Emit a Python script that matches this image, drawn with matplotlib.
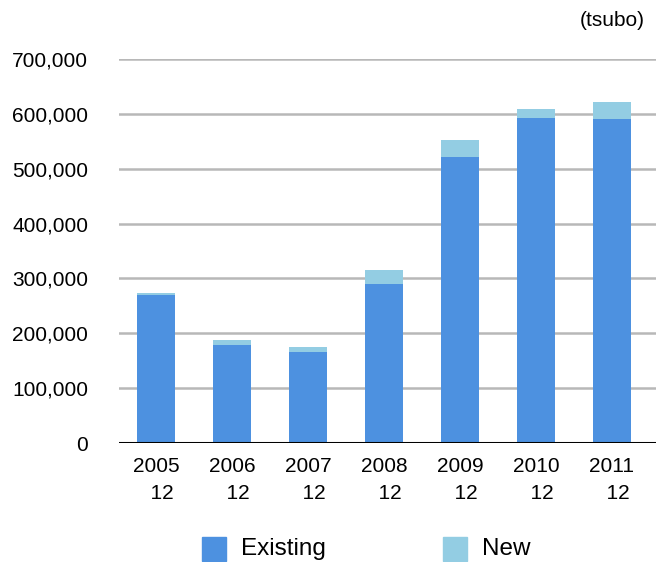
import matplotlib
matplotlib.use("Agg")
import matplotlib.pyplot as plt
from matplotlib.patches import Rectangle
from matplotlib.ticker import FuncFormatter

years = ["2005", "2006", "2007", "2008", "2009", "2010", "2011"]
months = ["12"] * 7
existing = [270000, 179000, 166000, 290000, 521000, 592000, 590000]
new = [3000, 9000, 9000, 25000, 31000, 17000, 31000]
yticks = [0, 100000, 200000, 300000, 400000, 500000, 600000, 700000]

c_existing = "#4d91e0"
c_new = "#93cde3"

plt.rcParams["font.family"] = ["Liberation Sans", "DejaVu Sans"]

fig = plt.figure(figsize=(6.56, 5.62), dpi=100)
ax = fig.add_axes([0.181, 0.2117, 0.819, 0.6833])

x = list(range(len(years)))
ax.bar(x, existing, width=0.51, color=c_existing, zorder=3)
ax.bar(x, new, bottom=existing, width=0.51, color=c_new, zorder=3)

ax.set_ylim(0, 700000)
ax.set_xlim(-0.49, 6.58)
ax.set_yticks(yticks)
ax.yaxis.set_major_formatter(FuncFormatter(lambda v, p: f"{int(v):,}"))
ax.grid(axis="y", color="#b8b8b8", linewidth=1.8, zorder=0)
ax.axhline(0, color="black", linewidth=2.2, zorder=4)

ax.set_xticks(x)
ax.set_xticklabels([f"{y}\n  {m}" for y, m in zip(years, months)],
                   fontsize=15, linespacing=1.55)
ax.tick_params(axis="x", length=0, pad=10)
ax.tick_params(axis="y", length=0, pad=22, labelsize=15)
for s in ax.spines.values():
    s.set_visible(False)

fig.text(645 / 656, 1 - 20 / 562, "(tsubo)", ha="right", va="center", fontsize=15)

# legend drawn as figure-level patches and labels
H = 562
W = 656
for (x0, label, col) in [(202, "Existing", c_existing), (443, "New", c_new)]:
    fig.patches.append(Rectangle((x0 / W, 1 - 561 / H), 24 / W, 24 / H,
                                 transform=fig.transFigure, color=col))
    fig.text((x0 + 39) / W, 1 - 549 / H, label, ha="left", va="center", fontsize=17.5)

fig.savefig("out.png", dpi=100)
